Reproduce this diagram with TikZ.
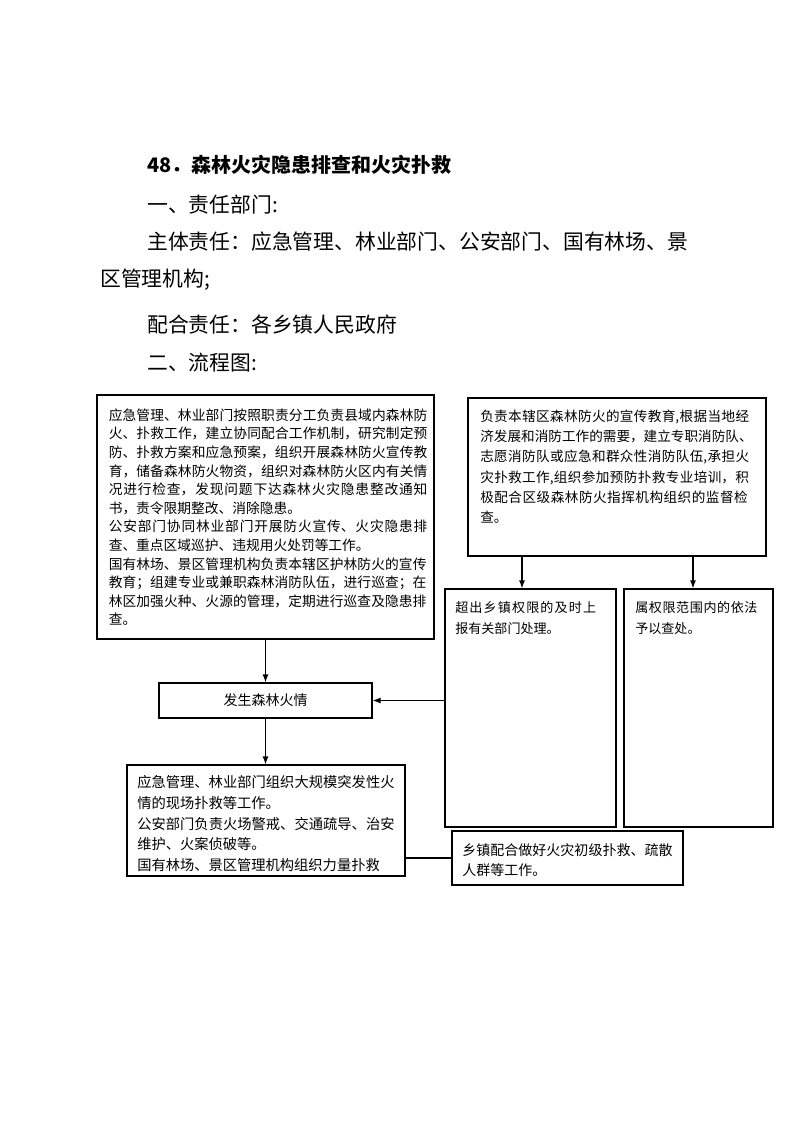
\documentclass[tikz,border=0pt]{standalone}
\usepackage{fontspec}
\setmainfont{Noto Sans CJK SC}
\usetikzlibrary{arrows.meta,calc,fit}
\XeTeXlinebreaklocale "zh"
\XeTeXlinebreakskip=0pt plus 2pt
\setlength{\parindent}{0pt}
\newcommand\fsz[2]{\fontsize{#1}{#2}\selectfont}
\newcommand\jtx{\leftskip=0pt\rightskip=0pt\parfillskip=0pt plus 1fil\parindent=0pt\parskip=0pt\relax}
\begin{document}
\begin{tikzpicture}[x=0.75pt,y=-0.75pt,
  box/.style={draw, line width=0.9pt, inner sep=0pt},
  txt/.style={inner sep=0pt, anchor=north west},
  arr/.style={line width=0.9pt, -{Latex[length=6pt,width=4.5pt]}},
  lnk/.style={line width=0.9pt},
  hd/.style={inner sep=0pt, anchor=west, font=\fsz{15.6pt}{18pt}}]
\useasboundingbox[fill=white] (0,0) rectangle (794,1122);
% headings
\node[hd, font=\fsz{15pt}{18pt}\bfseries] (title) at (147,165) {48．森林火灾隐患排查和火灾扑救};
\node[hd] (h1) at (147,205) {一、责任部门:};
\node[hd] (h2) at (147,242) {主体责任：应急管理、林业部门、公安部门、国有林场、景};
\node[hd] (h3) at (100,280) {区管理机构;};
\node[hd] (h4) at (147,325) {配合责任：各乡镇人民政府};
\node[hd] (h5) at (147,363) {二、流程图:};
% boxes
\node[box, fit={(97,395) (434,639)}] (A) {};
\node[box, fit={(468,398) (766,556)}] (B) {};
\node[box, fit={(445,589) (616,827)}] (C) {};
\node[box, fit={(624,589) (773,827)}] (D) {};
\node[box, fit={(159,683) (372,718)}] (E) {};
\node[box, fit={(127,765) (405,876)}] (F) {};
\node[box, fit={(452,831) (683,885)}] (G) {};
% texts
\node[txt, text width=239pt, font=\fsz{10.3pt}{13.95pt}] (At) at (108.5,408.4) {\jtx 应急管理、林业部门按照职责分工负责县域内森林防\linebreak 火、扑救工作，建立协同配合工作机制，研究制定预\linebreak 防、扑救方案和应急预案，组织开展森林防火宣传教\linebreak 育，储备森林防火物资，组织对森林防火区内有关情\linebreak 况进行检查，发现问题下达森林火灾隐患整改通知\linebreak 书，责令限期整改、消除隐患。\par 公安部门协同林业部门开展防火宣传、火灾隐患排\linebreak 查、重点区域巡护、违规用火处罚等工作。\par 国有林场、景区管理机构负责本辖区护林防火的宣传\linebreak 教育；组建专业或兼职森林消防队伍，进行巡查；在\linebreak 林区加强火种、火源的管理，定期进行巡查及隐患排\linebreak 查。};
\node[txt, text width=204.5pt, font=\fsz{10.2pt}{15.2pt}] (Bt) at (480,409.5) {\jtx 负责本辖区森林防火的宣传教育,根据当地经\linebreak 济发展和消防工作的需要，建立专职消防队、\linebreak 志愿消防队或应急和群众性消防队伍,承担火\linebreak 灾扑救工作,组织参加预防扑救专业培训，积\linebreak 极配合区级森林防火指挥机构组织的监督检\linebreak 查。};
\node[txt, text width=114pt, font=\fsz{9.8pt}{15.75pt}] (Ct) at (455,600.7) {\jtx 超出乡镇权限的及时上\linebreak 报有关部门处理。};
\node[txt, text width=96pt, font=\fsz{9.8pt}{15.75pt}] (Dt) at (635,600.7) {\jtx 属权限范围内的依法\linebreak 予以查处。};
\node[inner sep=0pt, font=\fsz{10.5pt}{12pt}] (Et) at (E.center) {发生森林火情};
\node[txt, text width=193pt, font=\fsz{10.7pt}{15.6pt}] (Ft) at (137,775.2) {\jtx 应急管理、林业部门组织大规模突发性火\linebreak 情的现场扑救等工作。\par 公安部门负责火场警戒、交通疏导、治安\linebreak 维护、火案侦破等。\par 国有林场、景区管理机构组织力量扑救};
\node[txt, text width=158pt, font=\fsz{10.5pt}{15pt}] (Gt) at (462,843.3) {\jtx 乡镇配合做好火灾初级扑救、疏散\linebreak 人群等工作。};
% connectors
\coordinate (bc) at (522,0);
\coordinate (bd) at (693,0);
\draw[arr] (A.south) -- (E.north);
\draw[arr] (E.south) -- (E.south |- F.north);
\draw[arr] (C.west |- E.east) -- (E.east);
\draw[arr] (bc |- B.south) -- (bc |- C.north);
\draw[arr] (bd |- B.south) -- (bd |- D.north);
\draw[lnk] (F.east |- G.west) -- (G.west);
\end{tikzpicture}
\end{document}
